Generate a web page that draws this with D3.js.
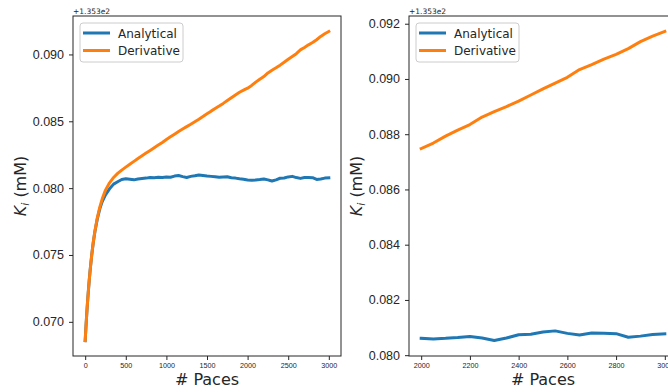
<!DOCTYPE html>
<html lang="en">
<head>
<meta charset="UTF-8">
<title>Ki vs paces</title>
<script src="https://d3js.org/d3.v7.min.js"></script>
<style>
  body { margin: 0; background: #fff; }
  svg { display: block; font-family: "DejaVu Sans", sans-serif; }
  .tick text { fill: #262626; }
</style>
</head>
<body>
<div id="chart"></div>
<script>
// values shown on the axis, offset by +1.353e2 (mM)
const offsetLabel = "+1.353e2";
const paces = [0, 10, 20, 30, 40, 50, 60, 80, 100, 120, 150, 180, 210, 250, 300, 350, 400, 450,
  500, 550, 600, 650, 700, 750, 800, 850, 900, 950, 1000, 1050, 1100, 1150, 1200, 1250, 1300,
  1350, 1400, 1450, 1500, 1550, 1600, 1650, 1700, 1750, 1800, 1850, 1900, 1950, 2000, 2050,
  2100, 2150, 2200, 2250, 2300, 2350, 2400, 2450, 2500, 2550, 2600, 2650, 2700, 2750, 2800,
  2850, 2900, 2950, 3000];
const analytical = [0.06860, 0.06968, 0.07067, 0.07156, 0.07237, 0.07312, 0.07379, 0.07497,
  0.07595, 0.07676, 0.07772, 0.07845, 0.07900, 0.07950, 0.07995, 0.08030, 0.08048, 0.08065,
  0.08070, 0.08066, 0.08062, 0.08068, 0.08072, 0.08075, 0.08080, 0.08078, 0.08082, 0.08080,
  0.08084, 0.08081, 0.08090, 0.08094, 0.08086, 0.08080, 0.08088, 0.08092, 0.08098, 0.08094,
  0.08090, 0.08088, 0.08085, 0.08082, 0.08084, 0.08085, 0.08078, 0.08075, 0.08070, 0.08066,
  0.08061, 0.08059, 0.08061, 0.08064, 0.08068, 0.08062, 0.08053, 0.08062, 0.08074, 0.08076,
  0.08084, 0.08088, 0.08079, 0.08073, 0.08080, 0.08079, 0.08078, 0.08065, 0.08069, 0.08075,
  0.08077];
const derivative = [0.06860, 0.06968, 0.07067, 0.07156, 0.07237, 0.07312, 0.07379, 0.07497,
  0.07597, 0.07680, 0.07780, 0.07858, 0.07920, 0.07985, 0.08040, 0.08080, 0.08110, 0.08135,
  0.08157, 0.08178, 0.08200, 0.08222, 0.08242, 0.08262, 0.08282, 0.08302, 0.08322, 0.08342,
  0.08364, 0.08384, 0.08404, 0.08424, 0.08442, 0.08460, 0.08478, 0.08497, 0.08516, 0.08536,
  0.08556, 0.08576, 0.08595, 0.08614, 0.08634, 0.08655, 0.08676, 0.08697, 0.08717, 0.08733,
  0.08748, 0.08768, 0.08793, 0.08815, 0.08835, 0.08862, 0.08882, 0.08900, 0.08920, 0.08942,
  0.08964, 0.08985, 0.09006, 0.09034, 0.09052, 0.09072, 0.09089, 0.09110, 0.09135, 0.09155,
  0.09172];
const seriesNames = ["Analytical", "Derivative"];
const seriesColors = ["#1f77b4", "#ff7f0e"];
const xTicksLeft = [0, 500, 1000, 1500, 2000, 2500, 3000];
const yTicksLeft = [0.070, 0.075, 0.080, 0.085, 0.090];
const xTicksRight = [2000, 2200, 2400, 2600, 2800, 3000];
const yTicksRight = [0.080, 0.082, 0.084, 0.086, 0.088, 0.090, 0.092];
const rightFrom = 2000;

const W = 668, H = 392;
const svg = d3.select("#chart").append("svg").attr("width", W).attr("height", H);

// matplotlib style 5% margins
function padded(ext) {
  const p = (ext[1] - ext[0]) * 0.05;
  return [ext[0] - p, ext[1] + p];
}

function panel(left, top, w, h, idx, xTicks, yTicks) {
  const series = [analytical, derivative].map(vals =>
    idx.map(i => ({ x: paces[i], y: vals[i] })));
  const allY = series.flat().map(d => d.y);
  const x = d3.scaleLinear().domain(padded(d3.extent(idx.map(i => paces[i])))).range([left, left + w]);
  const y = d3.scaleLinear().domain(padded(d3.extent(allY))).range([top + h, top]);

  const line = d3.line().x(d => x(d.x)).y(d => y(d.y));
  series.forEach((s, k) => {
    svg.append("path").datum(s)
      .attr("d", line)
      .attr("fill", "none")
      .attr("stroke", seriesColors[k])
      .attr("stroke-width", 3)
      .attr("stroke-linejoin", "round")
      .attr("stroke-linecap", "square");
  });

  // axes
  const xa = svg.append("g").attr("transform", `translate(0,${top + h})`)
    .call(d3.axisBottom(x).tickValues(xTicks).tickSize(4).tickPadding(3).tickFormat(d3.format("d")));
  xa.selectAll("text").attr("font-size", 7.2);
  const ya = svg.append("g").attr("transform", `translate(${left},0)`)
    .call(d3.axisLeft(y).tickValues(yTicks).tickSize(4).tickPadding(5).tickFormat(d3.format(".3f")));
  ya.selectAll("text").attr("font-size", 12.5);
  [xa, ya].forEach(a => {
    a.select(".domain").remove();
    a.selectAll("line").attr("stroke", "#262626");
  });

  // frame
  svg.append("rect").attr("x", left).attr("y", top).attr("width", w).attr("height", h)
    .attr("fill", "none").attr("stroke", "#262626").attr("stroke-width", 1);

  // offset text
  svg.append("text").attr("x", left).attr("y", top - 2)
    .attr("font-size", 7.5).attr("fill", "#262626").text(offsetLabel);

  // labels
  svg.append("text").attr("x", left + w / 2).attr("y", 385)
    .attr("text-anchor", "middle").attr("font-size", 16).attr("fill", "#262626").text("# Paces");
  const yl = svg.append("text")
    .attr("transform", `translate(${left - 47},${top + h / 2}) rotate(-90)`)
    .attr("text-anchor", "middle").attr("font-size", 16).attr("fill", "#262626");
  yl.append("tspan").attr("font-style", "italic").text("K");
  yl.append("tspan").attr("font-style", "italic").attr("font-size", 11).attr("dy", 3).text("i");
  yl.append("tspan").attr("dy", -3).text("\u00a0(mM)");

  // legend
  const lg = svg.append("g").attr("transform", `translate(${left + 7},${top + 7})`);
  lg.append("rect").attr("width", 103).attr("height", 39).attr("rx", 3)
    .attr("fill", "#fff").attr("fill-opacity", 0.8).attr("stroke", "#cccccc").attr("stroke-width", 1);
  seriesNames.forEach((n, k) => {
    const yy = 10 + k * 17.5;
    lg.append("line").attr("x1", 3).attr("x2", 30).attr("y1", yy).attr("y2", yy)
      .attr("stroke", seriesColors[k]).attr("stroke-width", 3);
    lg.append("text").attr("x", 38).attr("y", yy + 4.5).attr("font-size", 12)
      .attr("fill", "#262626").text(n);
  });
}

const allIdx = paces.map((d, i) => i);
const rightIdx = allIdx.filter(i => paces[i] >= rightFrom);
panel(73, 16, 268, 340, allIdx, xTicksLeft, yTicksLeft);
panel(409, 16, 268, 340, rightIdx, xTicksRight, yTicksRight);
</script>
</body>
</html>
